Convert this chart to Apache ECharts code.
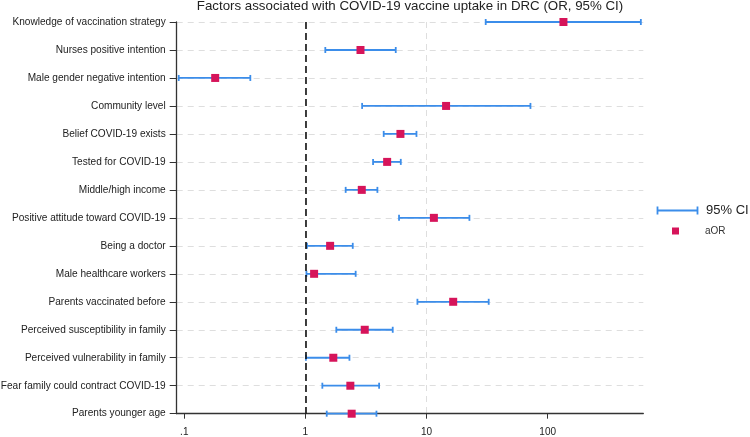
<!DOCTYPE html>
<html>
<head>
<meta charset="utf-8">
<script src="https://cdn.jsdelivr.net/npm/echarts@6/dist/echarts.min.js"></script>
<style>
  html, body { margin: 0; padding: 0; background: #fff; }
  #result { width: 750px; height: 437px; }
</style>
</head>
<body>
<div id="result"></div>
<script>
// 数据
var categories = [
    'Knowledge of vaccination strategy',
    'Nurses positive intention',
    'Male gender negative intention',
    'Community level',
    'Belief COVID-19 exists',
    'Tested for COVID-19',
    'Middle/high income',
    'Positive attitude toward COVID-19',
    'Being a doctor',
    'Male healthcare workers',
    'Parents vaccinated before',
    'Perceived susceptibility in family',
    'Perceived vulnerability in family',
    'Fear family could contract COVID-19',
    'Parents younger age'
];
var aor    = [135, 2.85, 0.18, 14.5, 6.09, 4.73, 2.92, 11.5, 1.60, 1.18, 16.6, 3.09, 1.70, 2.35, 2.41];
var ciLow  = [30.8, 1.46, 0.090, 2.94, 4.43, 3.62, 2.15, 5.93, 1.03, 1.02, 8.41, 1.80, 1.01, 1.38, 1.50];
var ciHigh = [588, 5.57, 0.351, 72.1, 8.26, 6.13, 3.93, 22.6, 2.46, 2.60, 32.6, 5.26, 2.31, 4.06, 3.86];
var xTicks = [0.1, 1, 10, 100];

var FONT = '"Liberation Sans", Arial, sans-serif';
var BLUE = '#3b8dea';
var RED = '#d6145a';
var GRID = '#dedede';

// 误差线数据 [low, high, index]
var ciData = categories.map(function (c, i) { return [ciLow[i], ciHigh[i], i]; });
var orData = categories.map(function (c, i) { return [aor[i], i]; });

var option = {
    animation: false,
    title: {
        text: 'Factors associated with COVID-19 vaccine uptake in DRC (OR, 95% CI)',
        left: 410,
        top: 0,
        padding: 0,
        textAlign: 'center',
        textStyle: { fontFamily: FONT, fontSize: 13.3, fontWeight: 'normal', color: '#222' }
    },
    legend: [
        {
            left: 655, top: 204, padding: 0,
            itemWidth: 41, itemHeight: 8,
            textStyle: { fontFamily: FONT, fontSize: 13, color: '#222', padding: [0, 0, 0, 3] },
            data: [{
                name: '95% CI',
                icon: 'path://M0,0L0,8M0,4L40,4M40,0L40,8',
                itemStyle: { color: 'none', borderColor: BLUE, borderWidth: 1.8 }
            }]
        },
        {
            left: 655, top: 226, padding: 0,
            itemWidth: 41, itemHeight: 7,
            textStyle: { fontFamily: FONT, fontSize: 10, color: '#333', padding: [0, 0, 0, 4] },
            // 方块居中：前面两个 M 只是撑开图标的包围盒
            data: [{ name: 'aOR', icon: 'path://M0,0M41,7M17,0L24,0L24,7L17,7Z' }]
        }
    ],
    grid: { left: 176.7, right: 106.7, top: 22, bottom: 23.3, containLabel: false, outerBoundsMode: 'none' },
    xAxis: {
        type: 'log',
        logBase: 10,
        min: 0.0866,
        max: 616,
        axisLine: { show: true, lineStyle: { color: '#333', width: 1.3 } },
        axisTick: { show: true, length: 5, customValues: xTicks, lineStyle: { color: '#333' } },
        axisLabel: {
            customValues: xTicks,
            margin: 14,
            fontFamily: FONT, fontSize: 10, color: '#222',
            formatter: function (v) { return String(v).replace(/^0\./, '.'); }
        },
        splitLine: { show: true, showMinLine: false, showMaxLine: false, lineStyle: { color: GRID, type: [6, 5], width: 1 } }
    },
    yAxis: {
        type: 'category',
        inverse: true,
        boundaryGap: false,
        data: categories,
        axisLine: { show: true, lineStyle: { color: '#333', width: 1.3 } },
        axisTick: { show: true, length: 7, alignWithLabel: true, lineStyle: { color: '#333' } },
        axisLabel: { margin: 11, fontFamily: FONT, fontSize: 10.1, color: '#222', interval: 0 },
        splitLine: { show: true, interval: 0, lineStyle: { color: GRID, type: [6, 5], width: 1 } }
    },
    series: [
        {
            name: '95% CI',
            type: 'custom',
            color: BLUE,
            encode: { x: [0, 1], y: 2 },
            data: ciData,
            z: 2,
            renderItem: function (params, api) {
                var p0 = api.coord([api.value(0), api.value(2)]);
                var p1 = api.coord([api.value(1), api.value(2)]);
                var h = 3;
                var style = { stroke: BLUE, lineWidth: 1.8, fill: null };
                return {
                    type: 'group',
                    children: [
                        { type: 'line', shape: { x1: p0[0], y1: p0[1], x2: p1[0], y2: p1[1] }, style: style },
                        { type: 'line', shape: { x1: p0[0], y1: p0[1] - h, x2: p0[0], y2: p0[1] + h }, style: style },
                        { type: 'line', shape: { x1: p1[0], y1: p1[1] - h, x2: p1[0], y2: p1[1] + h }, style: style }
                    ]
                };
            }
        },
        {
            name: 'aOR',
            type: 'scatter',
            symbol: 'rect',
            symbolSize: 8,
            itemStyle: { color: RED, opacity: 1 },
            data: orData,
            z: 3,
            markLine: {
                silent: true,
                symbol: 'none',
                label: { show: false },
                lineStyle: { color: '#111', type: [7, 4], width: 1.6 },
                data: [{ xAxis: 1 }]
            }
        }
    ]
};

var myResult = echarts.init(document.getElementById('result'));
myResult.setOption(option);
</script>
</body>
</html>
